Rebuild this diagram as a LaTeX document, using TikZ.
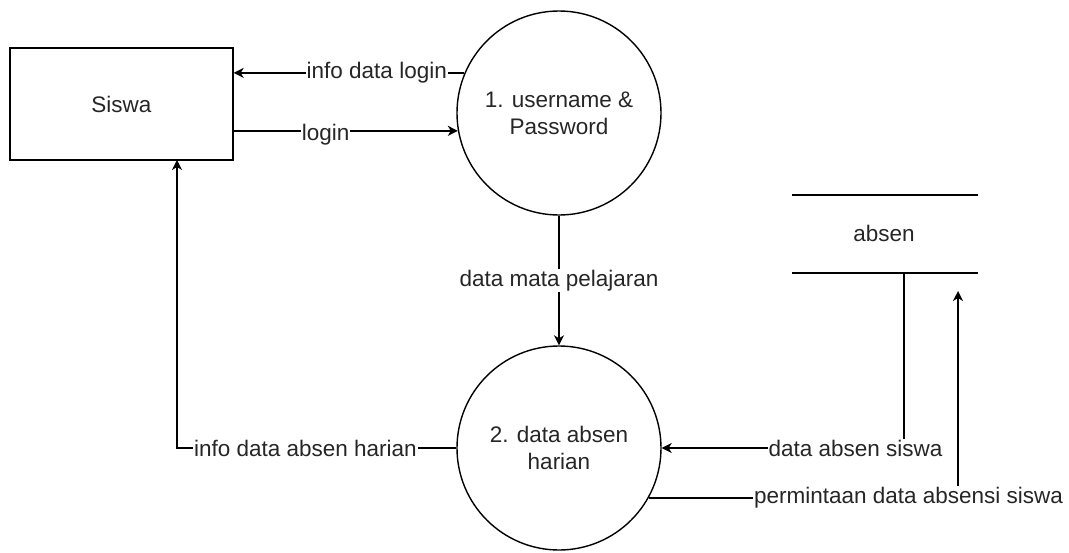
\documentclass[tikz,border=0pt]{standalone}
\usepackage{fontspec}
\setmainfont{Liberation Sans}
\usetikzlibrary{arrows.meta}

\tikzset{
    entity/.style={draw, line width=1.4pt, minimum width=223pt, minimum height=112pt, inner sep=0pt},
    proc/.style={circle, draw, line width=1.4pt, minimum size=204pt, inner sep=0pt, align=center},
    flow/.style={line width=1.5pt, -{Stealth[length=10pt, width=10pt, inset=3pt]}},
    lbl/.style={fill=white, inner sep=1pt, text=black!85}
}

\begin{document}
\begin{tikzpicture}[x=1pt, y=-1pt, font=\fontsize{22.5}{27}\selectfont, text=black!85]
    \useasboundingbox (0,0) rectangle (1069,552);
    \node[entity] (siswa) at (121.5, 104) {Siswa};
    \node[proc] (p1) at (559, 113) {1. username \&\\Password};
    \node[proc] (p2) at (559, 448) {2. data absen\\harian};
	% data store
	\node (absen) at (884, 233) {absen};
	\draw[line width=1.5pt] (792, 195) -- (978, 195);
	\draw[line width=1.5pt] (792, 273) -- (978, 273);
	\coordinate (dsOut) at (904, 273);
	\coordinate (dsIn) at (958, 291);
	\coordinate (sIn) at (177, 160);
	% flows
	\draw[flow] (p1.157.5) -- node[lbl, pos=0.38] {info data login} (p1.157.5 -| siswa.east);
	\draw[flow] (p1.190.7 -| siswa.east) -- node[lbl, pos=0.41, yshift=-4pt] {login} (p1.190.7);
	\draw[flow] (p1.south) -- node[lbl] {data mata pelajaran} (p2.north);
	\draw[flow] (p2.west) -| node[lbl, pos=0.27] {info data absen harian} (sIn);
	\draw[flow] (dsOut) |- node[lbl, pos=0.6] {data absen siswa} (p2.east);
	\draw[flow] (p2.331.3) -| node[lbl, pos=0.42] {permintaan data absensi siswa} (dsIn);
\end{tikzpicture}
\end{document}
